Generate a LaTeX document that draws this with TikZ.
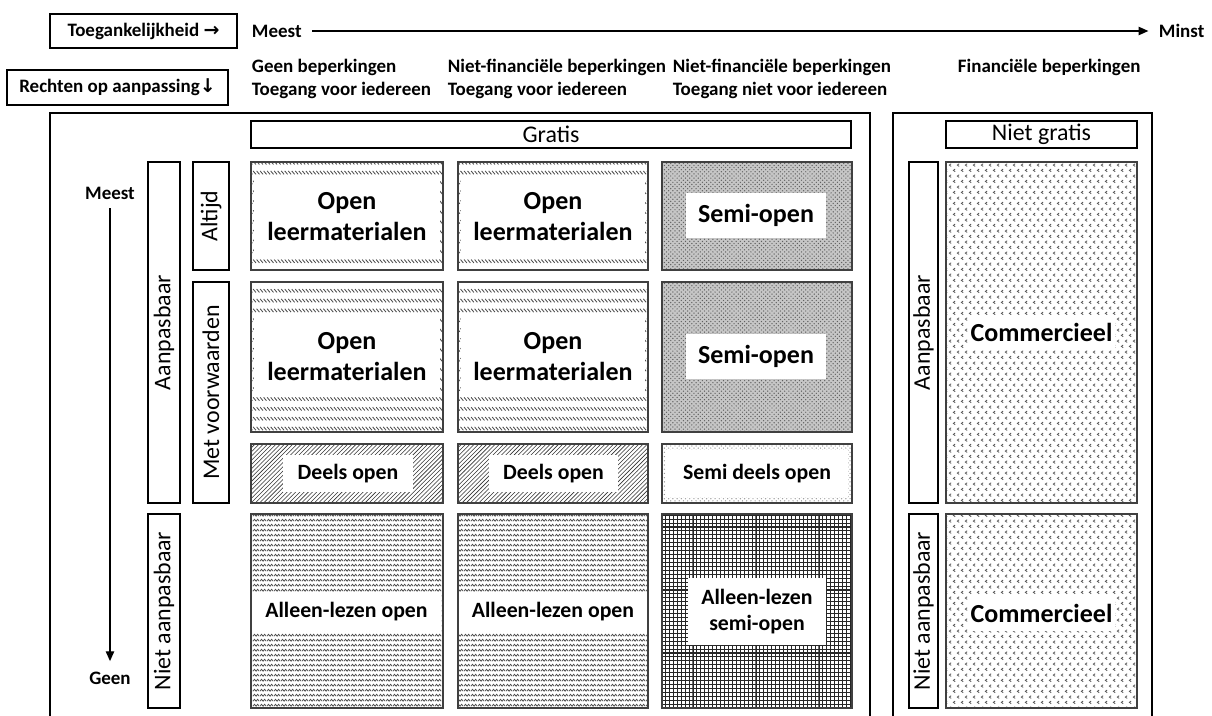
\documentclass[tikz,border=0pt]{standalone}
\usepackage{fontspec}
\setmainfont{Carlito}
\newfontfamily\arrowfont{DejaVu Sans}
\usetikzlibrary{patterns,fit,arrows.meta,positioning}

% fill patterns of the cells
\pgfdeclarepatternformonly{tickrows}{\pgfqpoint{-0.5pt}{-0.5pt}}{\pgfqpoint{3pt}{7.5pt}}{\pgfqpoint{2.5pt}{7pt}}{%
  \pgfsetlinewidth{0.6pt}
  \pgfpathmoveto{\pgfqpoint{0pt}{2.6pt}}\pgfpathlineto{\pgfqpoint{2pt}{0.2pt}}
  \pgfusepath{stroke}}
\pgfdeclarepatternformonly{waverows}{\pgfqpoint{0pt}{0pt}}{\pgfqpoint{5pt}{3.4pt}}{\pgfqpoint{5pt}{3.4pt}}{%
  \pgfsetlinewidth{0.6pt}
  \pgfpathmoveto{\pgfqpoint{0pt}{0.6pt}}\pgfpathlineto{\pgfqpoint{1.25pt}{2pt}}
  \pgfpathlineto{\pgfqpoint{2.5pt}{0.6pt}}\pgfpathlineto{\pgfqpoint{3.75pt}{2pt}}
  \pgfpathlineto{\pgfqpoint{5pt}{0.6pt}}
  \pgfusepath{stroke}}
\pgfdeclarepatternformonly{chevrons}{\pgfqpoint{0pt}{0pt}}{\pgfqpoint{6pt}{8pt}}{\pgfqpoint{6pt}{8pt}}{%
  \pgfsetlinewidth{0.6pt}
  \pgfpathmoveto{\pgfqpoint{2.4pt}{3pt}}\pgfpathlineto{\pgfqpoint{1pt}{2pt}}\pgfpathlineto{\pgfqpoint{2.4pt}{1pt}}
  \pgfpathmoveto{\pgfqpoint{5.4pt}{7pt}}\pgfpathlineto{\pgfqpoint{4pt}{6pt}}\pgfpathlineto{\pgfqpoint{5.4pt}{5pt}}
  \pgfusepath{stroke}}
\pgfdeclarepatternformonly{thickgrid}{\pgfqpoint{-0.5pt}{-0.5pt}}{\pgfqpoint{3.3pt}{3.3pt}}{\pgfqpoint{2.8pt}{2.8pt}}{%
  \pgfsetlinewidth{0.75pt}
  \pgfpathmoveto{\pgfqpoint{0pt}{0pt}}\pgfpathlineto{\pgfqpoint{2.8pt}{0pt}}
  \pgfpathmoveto{\pgfqpoint{0pt}{0pt}}\pgfpathlineto{\pgfqpoint{0pt}{2.8pt}}
  \pgfusepath{stroke}}

\begin{document}
\begin{tikzpicture}[x=0.025cm,y=-0.025cm,>={Triangle[length=7pt,width=6pt]},
    head/.style={font=\fontsize{13.5}{16.3}\selectfont\bfseries,align=left},
    hdrbox/.style={draw,line width=0.9pt,inner sep=0pt},
    frame/.style={line width=1.8pt},
    cell/.style={draw=black!75,line width=1pt,inner sep=0pt},
    blank/.style={fill=white,inner sep=0pt},
    big/.style={font=\fontsize{18.5}{22}\selectfont\bfseries,align=center},
    small/.style={font=\fontsize{15.5}{18}\selectfont\bfseries,align=center},
    plain/.style={font=\fontsize{17}{20}\selectfont}]
    \useasboundingbox (0,0) rectangle (1212,716);

    % top axis
    \node[hdrbox,fit={(50,14) (237,48)}] (toeg) {};
    \node[head] at (toeg) {Toegankelijkheid {\arrowfont\bfseries →}};
    \node[head,anchor=west] (meest) at (247,31) {Meest};
    \node[head,anchor=west] (minst) at (1154,31) {Minst};
    \draw[->,line width=0.9pt,shorten <=4pt,shorten >=4pt] (meest.east) -- (minst.west);

    \node[hdrbox,fit={(7,70) (228,105)}] (recht) {};
    \node[head] at (recht) {Rechten op aanpassing{\arrowfont\bfseries ↓}};
    \node[head,anchor=west] (kol1) at (247,79) {Geen beperkingen\\Toegang voor iedereen};
    \node[head,anchor=west] (kol2) at (443,79) {Niet-financiële beperkingen\\Toegang voor iedereen};
    \node[head,anchor=west] (kol3) at (668,79) {Niet-financiële beperkingen\\Toegang niet voor iedereen};
    \node[head,anchor=west] (kol4) at (953,67) {Financiële beperkingen};

    % frames
    \draw[frame] (50,716) |- (870,113) -- (870,716);
    \draw[frame] (893,716) |- (1152,113) -- (1152,716);
    \node[hdrbox,fit={(251,121) (851,148)}] (gratis) {};
    \node[plain] at (gratis) {Gratis};
    \node[hdrbox,fit={(946,121) (1137,148)}] (nietgratis) {};
    \node[plain] at (nietgratis) {Niet gratis};

    % left axis
    \node[head] (lmeest) at (110,193) {Meest};
    \node[head] (lgeen) at (110,678) {Geen};
    \draw[->,line width=0.9pt,shorten <=3pt,shorten >=4pt] (lmeest) -- (lgeen);

    \node[hdrbox,fit={(148,162) (180,503)}] (aanp) {};
    \node[plain,rotate=90] at (aanp) {Aanpasbaar};
    \node[hdrbox,fit={(148,514) (180,708)}] (nietaanp) {};
    \node[plain,rotate=90] at (nietaanp) {Niet aanpasbaar};
    \node[hdrbox,fit={(193,162) (229,270)}] (altijd) {};
    \node[plain,rotate=90] at (altijd) {Altijd};
    \node[hdrbox,fit={(193,282) (229,503)}] (metv) {};
    \node[plain,rotate=90] at (metv) {Met voorwaarden};
    \node[hdrbox,fit={(909,162) (938,503)}] (raanp) {};
    \node[plain,rotate=90] at (raanp) {Aanpasbaar};
    \node[hdrbox,fit={(909,514) (938,708)}] (rnietaanp) {};
    \node[plain,rotate=90] at (rnietaanp) {Niet aanpasbaar};

    % row 1: altijd
    \node[cell,pattern=tickrows,pattern color=gray!60!black,fit={(251,162) (443,270)}] (c11) {};
    \node[blank,fit={(254,176) (440,257)}] (w11) {};
    \node[big] at (w11) {Open\\leermaterialen};
    \node[cell,pattern=tickrows,pattern color=gray!60!black,fit={(458,162) (648,270)}] (c12) {};
    \node[blank,fit={(461,176) (645,257)}] (w12) {};
    \node[big] at (w12) {Open\\leermaterialen};
    \node[cell,preaction={fill=gray!45},pattern=crosshatch dots,pattern color=gray!75!black,fit={(662,162) (852,270)}] (c13) {};
    \node[blank,fit={(686,193) (826,238)}] (w13) {};
    \node[big] at (w13) {Semi-open};

    % row 2: met voorwaarden
    \node[cell,pattern=tickrows,pattern color=gray!60!black,fit={(251,282) (443,432)}] (c21) {};
    \node[blank,fit={(254,317) (440,396)}] (w21) {};
    \node[big] at (w21) {Open\\leermaterialen};
    \node[cell,pattern=tickrows,pattern color=gray!60!black,fit={(458,282) (648,432)}] (c22) {};
    \node[blank,fit={(461,317) (645,396)}] (w22) {};
    \node[big] at (w22) {Open\\leermaterialen};
    \node[cell,preaction={fill=gray!45},pattern=crosshatch dots,pattern color=gray!75!black,fit={(662,282) (852,432)}] (c23) {};
    \node[blank,fit={(686,334) (826,379)}] (w23) {};
    \node[big] at (w23) {Semi-open};

    % row 3: deels
    \node[cell,pattern=north east lines,pattern color=gray!40!black,fit={(251,444) (443,503)}] (c31) {};
    \node[blank,fit={(283,455) (413,492)}] (w31) {};
    \node[small] at (w31) {Deels open};
    \node[cell,pattern=north east lines,pattern color=gray!40!black,fit={(458,444) (648,503)}] (c32) {};
    \node[blank,fit={(489,455) (618,492)}] (w32) {};
    \node[small] at (w32) {Deels open};
    \node[cell,pattern=crosshatch dots,pattern color=gray!80,fit={(662,444) (852,503)}] (c33) {};
    \node[blank,fit={(666,450) (848,497)}] (w33) {};
    \node[small] at (w33) {Semi deels open};

    % row 4: niet aanpasbaar
    \node[cell,pattern=waverows,pattern color=gray!60!black,fit={(251,514) (443,708)}] (c41) {};
    \node[blank,fit={(252,592) (441,632)}] (w41) {};
    \node[small] at (w41) {Alleen-lezen open};
    \node[cell,pattern=waverows,pattern color=gray!60!black,fit={(458,514) (648,708)}] (c42) {};
    \node[blank,fit={(459,592) (647,632)}] (w42) {};
    \node[small] at (w42) {Alleen-lezen open};
    \node[cell,pattern=thickgrid,pattern color=black!85,fit={(662,514) (852,708)}] (c43) {};
    \node[blank,fit={(688,578) (826,645)}] (w43) {};
    \node[small] at (w43) {Alleen-lezen\\semi-open};

    % niet gratis
    \node[cell,pattern=chevrons,pattern color=gray!70!black,fit={(946,162) (1137,503)}] (r1) {};
    \node[blank,fit={(968,315) (1115,350)}] (v1) {};
    \node[big] at (v1) {Commercieel};
    \node[cell,pattern=chevrons,pattern color=gray!70!black,fit={(946,514) (1137,708)}] (r2) {};
    \node[blank,fit={(968,596) (1115,631)}] (v2) {};
    \node[big] at (v2) {Commercieel};
\end{tikzpicture}
\end{document}
